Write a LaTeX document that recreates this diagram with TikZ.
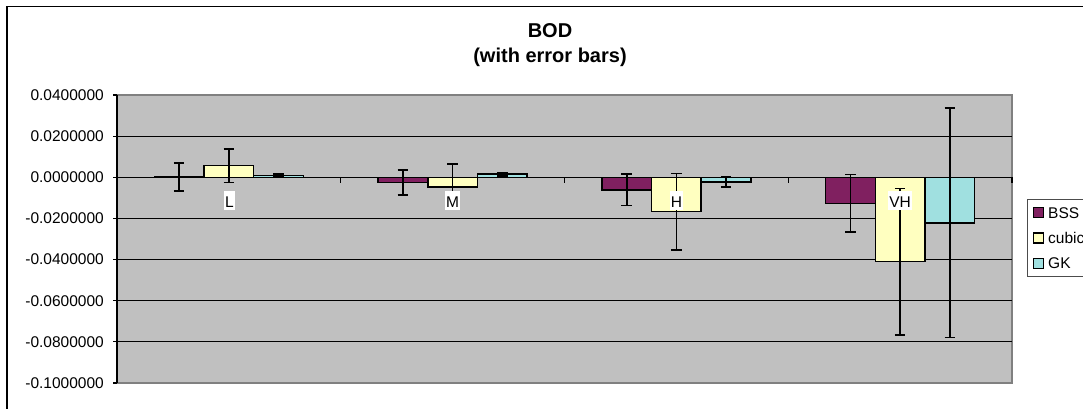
\documentclass[tikz,border=0pt]{standalone}
\usepackage{fontspec}
\setmainfont{Liberation Sans}
\definecolor{bss}{RGB}{128,32,96}
\definecolor{cub}{RGB}{255,255,192}
\definecolor{gk}{RGB}{160,224,224}
\definecolor{plotbg}{RGB}{192,192,192}
\definecolor{plotedge}{RGB}{128,128,128}
\tikzset{
  lbl/.style={font=\fontsize{15.5}{18}\selectfont, inner sep=0pt},
  catlbl/.style={lbl, fill=white, inner xsep=1pt, inner ysep=1.5pt, text height=14.5pt, text depth=1.5pt},
  barbox/.style={draw=black, line width=1.5pt},
  errbar/.style={draw=black, line width=1.7pt},
  grid line/.style={draw=black, line width=1.1pt},
}
\begin{document}
\begin{tikzpicture}[x=1pt,y=-1pt]
\useasboundingbox (0,0) rectangle (1083,408);
\clip (0,0) rectangle (1083,408);
\fill[white] (0,0) rectangle (1083,408);
% outer chart frame
\draw[line width=1.4pt] (7,6.5) rectangle (1100,420);
% title
\node[font=\bfseries\fontsize{20}{25}\selectfont, align=center, inner sep=0pt] (title) at (550,45) {BOD\\(with error bars)};
% plot area
\fill[plotbg] (117,95) rectangle (1012,383);
\draw[plotedge, line width=1.4pt] (117,95) -- (1012,95) -- (1012,383) -- (117,383);
% gridlines
\foreach \v in {0.02,-0.02,-0.04,-0.06,-0.08}
  \draw[grid line] (117,{177.3-2057*(\v)}) -- (1012,{177.3-2057*(\v)});
% value axis with ticks and labels
\draw[line width=1.4pt] (117,95) -- (117,383);
\foreach \v/\t in {0.04/0.0400000,0.02/0.0200000,0/0.0000000,-0.02/-0.0200000,-0.04/-0.0400000,-0.06/-0.0600000,-0.08/-0.0800000,-0.1/-0.1000000}{
  \draw[line width=1.1pt] (113,{177.3-2057*(\v)}) -- (117,{177.3-2057*(\v)});
  \node[lbl, anchor=east] at (104,{177.3-2057*(\v)}) {\t};
}
% bars and error bars
\foreach \g/\k/\c/\v/\t/\b in {
  0/0/bss/0.0001/0.0068/-0.0065,
  0/1/cub/0.0058/0.0139/-0.0026,
  0/2/gk/0.0008/0.0015/0.0001,
  1/0/bss/-0.0026/0.0034/-0.0086,
  1/1/cub/-0.0046/0.0066/-0.0145,
  1/2/gk/0.0015/0.0024/0.0006,
  2/0/bss/-0.0062/0.0015/-0.0137,
  2/1/cub/-0.0167/0.0018/-0.0352,
  2/2/gk/-0.0024/0.0003/-0.0047,
  3/0/bss/-0.0127/0.0013/-0.0265,
  3/1/cub/-0.0410/-0.0054/-0.0767,
  3/2/gk/-0.0221/0.0336/-0.0778}{
  \pgfmathsetmacro\xl{117+\g*223.75+37.29+\k*49.72}
  \pgfmathsetmacro\xr{\xl+49.72}
  \pgfmathsetmacro\xm{\xl+24.86}
  \pgfmathsetmacro\yv{177.3-2057*(\v)}
  \pgfmathsetmacro\yt{177.3-2057*(\t)}
  \pgfmathsetmacro\yb{177.3-2057*(\b)}
  \draw[barbox, fill=\c] (\xl,\yv) rectangle (\xr,177.3);
  \draw[errbar] (\xm,\yt) -- (\xm,\yb);
  \draw[errbar] ({\xm-5.3},\yt) -- ({\xm+5.3},\yt);
  \draw[errbar] ({\xm-5.3},\yb) -- ({\xm+5.3},\yb);
}
% category axis
\draw[line width=1.4pt] (117,177.3) -- (1012,177.3);
\foreach \g in {0,1,2,3,4}
  \draw[line width=1.1pt] ({117+\g*223.75},177.3) -- ({117+\g*223.75},182.7);
% category labels
\node[catlbl] (cL) at (229.5,200.5) {L};
\node[catlbl] (cM) at (452.6,200.5) {M};
\node[catlbl] (cH) at (676.4,200.5) {H};
\node[catlbl] (cVH) at (900.1,200.5) {VH};
% legend
\draw[line width=1pt, draw=black!70] (1027.3,199.3) rectangle (1100,276);
\foreach \c/\t/\y in {bss/BSS/212.7,cub/cubic/238,gk/GK/263.3}{
  \draw[line width=1.4pt, fill=\c] (1033.5,{\y-5}) rectangle (1043.5,{\y+5});
  \node[lbl, anchor=west] at (1048,\y) {\t};
}
\end{tikzpicture}
\end{document}
